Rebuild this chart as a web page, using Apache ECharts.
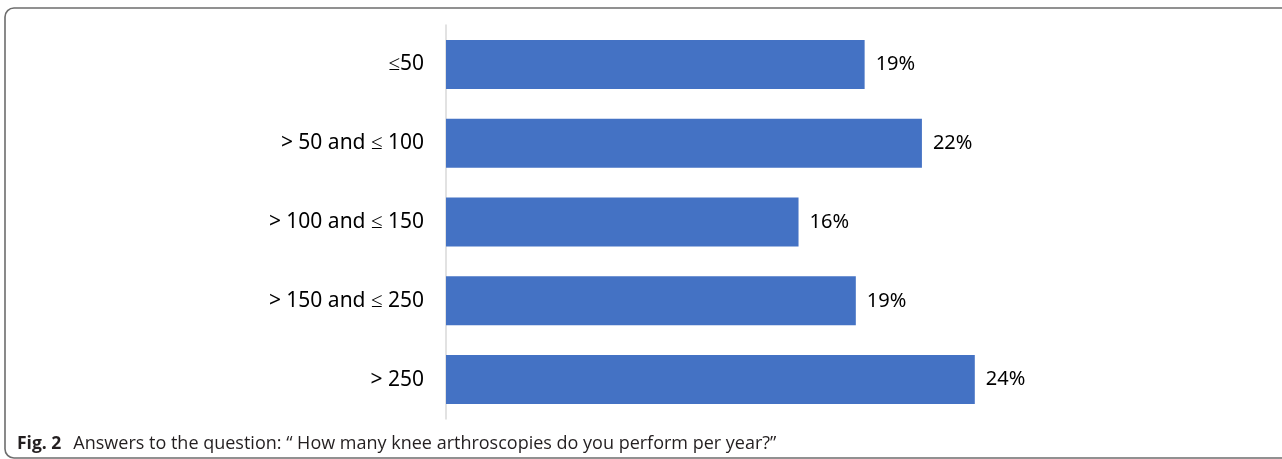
<!DOCTYPE html>
<html>
<head>
<meta charset="utf-8">
<script src="https://cdn.jsdelivr.net/npm/echarts@6/dist/echarts.min.js"></script>
<style>
html,body{margin:0;padding:0;background:#fff;}
#chart{width:1282px;height:459px;}
</style>
</head>
<body>
<div id="chart"></div>
<script>
const categories = ['≤50', '> 50 and ≤ 100', '> 100 and ≤ 150', '> 150 and ≤ 250', '> 250'];
const values = [19.0, 21.6, 16.0, 18.6, 24.0];
const captionLabel = 'Fig. 2';
const captionText = 'Answers to the question: “ How many knee arthroscopies do you perform per year?”';

const chart = echarts.init(document.getElementById('chart'), null, {renderer: 'canvas'});
chart.setOption({
  animation: false,
  backgroundColor: '#fff',
  title: {
    text: '{b|' + captionLabel + '}{n|' + captionText + '}',
    left: 12,
    top: 430,
    textStyle: {
      rich: {
        b: {fontFamily: 'Open Sans', fontWeight: 'bold', fontSize: 17.5, color: '#231f20', padding: [0, 12, 0, 0]},
        n: {fontFamily: 'Open Sans', fontWeight: 'normal', fontSize: 18, color: '#231f20'}
      }
    }
  },
  graphic: [{
    type: 'rect',
    shape: {x: 5, y: 8, width: 1300, height: 450, r: 9},
    style: {fill: 'none', stroke: '#6d6d6d', lineWidth: 1.6},
    silent: true
  }],
  grid: {left: 446, top: 25, height: 394, width: 661},
  xAxis: {
    type: 'value', min: 0, max: 30,
    show: false
  },
  yAxis: {
    type: 'category',
    data: categories,
    inverse: true,
    axisLine: {show: true, lineStyle: {color: '#d9d9d9', width: 1.5}},
    axisTick: {show: false},
    axisLabel: {fontFamily: 'Noto Sans', fontSize: 21, color: '#000', margin: 22}
  },
  series: [{
    type: 'bar',
    data: values,
    barWidth: 49,
    itemStyle: {color: '#4472c4'},
    label: {
      show: true, position: 'right', distance: 11,
      fontFamily: 'Noto Sans', fontSize: 20, color: '#000',
      formatter: p => Math.round(p.value) + '%'
    }
  }]
});
</script>
</body>
</html>
